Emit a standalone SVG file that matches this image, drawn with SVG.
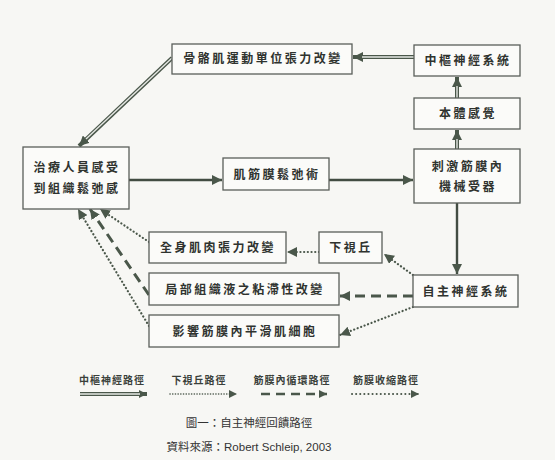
<svg xmlns="http://www.w3.org/2000/svg" width="555" height="460" viewBox="0 0 555 460">
<defs>
<style>
.box{fill:#fbfbf9;stroke:#5a5f5a;stroke-width:1.3}
.t{font-family:"Noto Sans CJK TC","Noto Sans CJK SC",sans-serif;font-size:12px;fill:#2f332f;letter-spacing:2.5px;text-anchor:middle;font-weight:bold}
.lg{font-family:"Noto Sans CJK TC","Noto Sans CJK SC",sans-serif;font-size:10px;fill:#3a3f3a;letter-spacing:1px;text-anchor:middle;font-weight:bold}
.cap{font-family:"Liberation Sans","Noto Sans CJK TC",sans-serif;font-size:11.5px;fill:#333;text-anchor:middle}
.dbl{stroke:#4a574a;stroke-width:4;fill:none}
.dblin{stroke:#e6e8e4;stroke-width:1.4;fill:none}
.sol{stroke:#424c42;stroke-width:2.4;fill:none}
.dot{stroke:#4a574a;stroke-width:2.2;fill:none;stroke-dasharray:0.1 3.6;stroke-linecap:round}
.dash{stroke:#4a574a;stroke-width:3;fill:none;stroke-dasharray:10 6}
</style>
<marker id="ah" viewBox="0 0 10 10" refX="10" refY="5" markerWidth="10" markerHeight="10" markerUnits="userSpaceOnUse" orient="auto">
<path d="M0,0 L10,5 L0,10 Z" fill="#4a574a"/>
</marker>
<marker id="ahs" viewBox="0 0 10 10" refX="10" refY="5" markerWidth="8" markerHeight="8" markerUnits="userSpaceOnUse" orient="auto">
<path d="M0,0 L10,5 L0,10 Z" fill="#4a574a"/>
</marker>
</defs>
<rect width="555" height="460" fill="#f7f7f4"/>
<g id="connectors">
<path class="dbl" d="M414,57 L353,57" marker-end="url(#ah)"/>
<path class="dblin" d="M414,57 L362,57"/>
<path class="dbl" d="M172,58 L79,146" marker-end="url(#ah)"/>
<path class="dblin" d="M172,58 L86,139"/>
<path class="dbl" d="M457,98 L457,77" marker-end="url(#ah)"/>
<path class="dblin" d="M457,98 L457,86"/>
<path class="dbl" d="M457,149 L457,130" marker-end="url(#ah)"/>
<path class="dblin" d="M457,149 L457,139"/>
<path class="sol" d="M129,180 L222,180" marker-end="url(#ah)"/>
<path class="sol" d="M329,180 L413,180" marker-end="url(#ah)"/>
<path class="sol" d="M457,203 L457,274" marker-end="url(#ah)"/>
<path class="dot" d="M413,275 L384,254" marker-end="url(#ah)"/>
<path class="dot" d="M319,252 L287,252" marker-end="url(#ah)"/>
<path class="dash" d="M413,296 L340,296" marker-end="url(#ah)"/>
<path class="dot" d="M413,307 L340,335" marker-end="url(#ah)"/>
<path class="dot" d="M149,242 L100,209" marker-end="url(#ah)"/>
<path class="dash" d="M149,295 L90,209" marker-end="url(#ah)"/>
<path class="dot" d="M149,326 L78,209" marker-end="url(#ah)"/>
</g>
<g id="n-skeletal"><rect class="box" x="172" y="44" width="180" height="30"/><text class="t" x="263" y="63">骨骼肌運動單位張力改變</text></g>
<g id="n-cns"><rect class="box" x="414" y="45" width="106" height="31"/><text class="t" x="468" y="65">中樞神經系統</text></g>
<g id="n-proprio"><rect class="box" x="414" y="98" width="106" height="31"/><text class="t" x="468" y="118">本體感覺</text></g>
<g id="n-mech"><rect class="box" x="414" y="149" width="106" height="54"/><text class="t" x="468" y="171">刺激筋膜內</text><text class="t" x="468" y="191">機械受器</text></g>
<g id="n-mfr"><rect class="box" x="223" y="158" width="106" height="32"/><text class="t" x="277" y="179">肌筋膜鬆弛術</text></g>
<g id="n-therapist"><rect class="box" x="23" y="147" width="106" height="62"/><text class="t" x="77" y="172">治療人員感受</text><text class="t" x="77" y="193">到組織鬆弛感</text></g>
<g id="n-tone"><rect class="box" x="149" y="232" width="137" height="31"/><text class="t" x="218" y="252">全身肌肉張力改變</text></g>
<g id="n-hypo"><rect class="box" x="319" y="232" width="63" height="31"/><text class="t" x="351" y="252">下視丘</text></g>
<g id="n-visc"><rect class="box" x="149" y="273" width="190" height="32"/><text class="t" x="245" y="294">局部組織液之粘滯性改變</text></g>
<g id="n-smooth"><rect class="box" x="149" y="315" width="190" height="32"/><text class="t" x="245" y="336">影響筋膜內平滑肌細胞</text></g>
<g id="n-ans"><rect class="box" x="413" y="275" width="105" height="32"/><text class="t" x="466" y="296">自主神經系統</text></g>
<g id="legend">
<text class="lg" x="112" y="384">中樞神經路徑</text>
<path class="dbl" d="M80,394 L147,394" marker-end="url(#ahs)"/>
<path class="dblin" d="M80,394 L140,394"/>
<text class="lg" x="199" y="384">下視丘路徑</text>
<path class="dot" style="stroke-width:1.6;stroke-dasharray:0.1 2.6" d="M170,394 L237,394" marker-end="url(#ahs)"/>
<text class="lg" x="292" y="384">筋膜內循環路徑</text>
<path class="dash" style="stroke-width:2.6;stroke-dasharray:9 6" d="M261,394 L327,394" marker-end="url(#ahs)"/>
<text class="lg" x="386" y="384">筋膜收縮路徑</text>
<path class="dot" style="stroke-width:2;stroke-dasharray:0.1 4" d="M352,394 L419,394" marker-end="url(#ahs)"/>
</g>
<text class="cap" x="249" y="427">圖一：自主神經回饋路徑</text>
<text class="cap" x="249" y="451">資料來源：Robert Schleip, 2003</text>
</svg>
